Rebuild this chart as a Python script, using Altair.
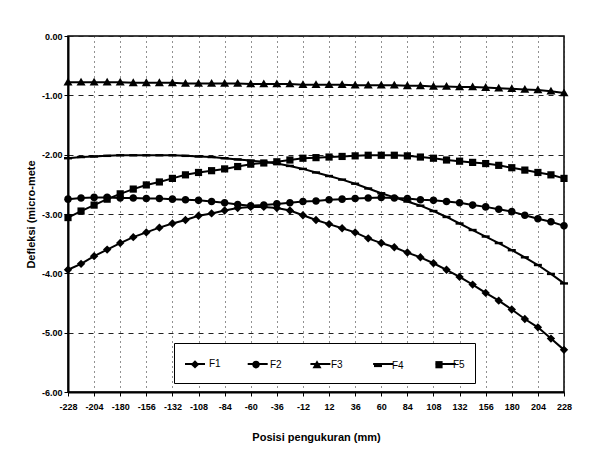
import altair as alt
import pandas as pd

# ---------------- data ----------------
positions = [-228, -216, -204, -192, -180, -168, -156, -144, -132, -120,
             -108, -96, -84, -72, -60, -48, -36, -24, -12, 0,
             12, 24, 36, 48, 60, 72, 84, 96, 108, 120,
             132, 144, 156, 168, 180, 192, 204, 216, 228]

f1 = [-3.94, -3.84, -3.71, -3.60, -3.49, -3.39, -3.31, -3.23, -3.16, -3.10,
      -3.03, -2.99, -2.94, -2.90, -2.88, -2.88, -2.90, -2.94, -3.02, -3.10,
      -3.17, -3.24, -3.31, -3.41, -3.49, -3.56, -3.65, -3.73, -3.83, -3.94,
      -4.06, -4.19, -4.33, -4.46, -4.61, -4.77, -4.91, -5.10, -5.29]

f2 = [-2.75, -2.73, -2.72, -2.72, -2.73, -2.73, -2.74, -2.74, -2.75, -2.76,
      -2.77, -2.79, -2.81, -2.84, -2.86, -2.85, -2.83, -2.81, -2.79, -2.78,
      -2.76, -2.75, -2.74, -2.73, -2.72, -2.73, -2.74, -2.76, -2.77, -2.79,
      -2.81, -2.85, -2.88, -2.92, -2.96, -3.02, -3.08, -3.13, -3.20]

f3 = [-0.78, -0.78, -0.78, -0.78, -0.78, -0.79, -0.79, -0.79, -0.79, -0.80,
      -0.80, -0.80, -0.80, -0.80, -0.81, -0.81, -0.81, -0.81, -0.82, -0.82,
      -0.82, -0.82, -0.83, -0.83, -0.83, -0.83, -0.84, -0.84, -0.85, -0.85,
      -0.86, -0.86, -0.87, -0.88, -0.89, -0.90, -0.91, -0.93, -0.96]

f4 = [-2.06, -2.04, -2.03, -2.02, -2.01, -2.01, -2.01, -2.01, -2.01, -2.02,
      -2.03, -2.04, -2.06, -2.08, -2.10, -2.12, -2.15, -2.19, -2.24, -2.30,
      -2.36, -2.42, -2.49, -2.57, -2.65, -2.72, -2.79, -2.86, -2.95, -3.05,
      -3.16, -3.27, -3.38, -3.49, -3.61, -3.73, -3.86, -4.01, -4.17]

f5 = [-3.06, -2.95, -2.85, -2.75, -2.66, -2.58, -2.51, -2.46, -2.40, -2.34,
      -2.30, -2.27, -2.24, -2.20, -2.16, -2.14, -2.12, -2.09, -2.06, -2.05,
      -2.04, -2.03, -2.02, -2.01, -2.01, -2.01, -2.02, -2.04, -2.06, -2.09,
      -2.11, -2.13, -2.15, -2.18, -2.22, -2.26, -2.30, -2.34, -2.40]

series_names = ["F1", "F2", "F3", "F4", "F5"]
x_ticks = [-228, -204, -180, -156, -132, -108, -84, -60, -36, -12,
           12, 36, 60, 84, 108, 132, 156, 180, 204, 228]
y_ticks = [0, -1, -2, -3, -4, -5, -6]

rows = []
for name, vals in zip(series_names, [f1, f2, f3, f4, f5]):
    for p, v in zip(positions, vals):
        rows.append({"pos": p, "val": v, "series": name, "lineSeries": name})
df = pd.DataFrame(rows)

FONT = "Liberation Sans"
# marker shapes drawn small inside the [-1, 1] symbol box
shapes = [
    "M0,-0.42L0.42,0L0,0.42L-0.42,0Z",                                   # diamond
    "M0.38,0A0.38,0.38,0,1,1,-0.38,0A0.38,0.38,0,1,1,0.38,0Z",           # circle
    "M0,-0.45L0.45,0.33L-0.45,0.33Z",                                     # triangle
    "M-0.4,-0.12L0.4,-0.12L0.4,0.12L-0.4,0.12Z",                          # dash
    "M-0.36,-0.36L0.36,-0.36L0.36,0.36L-0.36,0.36Z",                      # square
]

x_enc = alt.X(
    "pos:Q",
    scale=alt.Scale(domain=[-228, 228], nice=False, zero=False),
    axis=alt.Axis(
        values=x_ticks, labelExpr="toString(datum.value)",
        grid=True, gridDash=[1, 4], gridColor="#222222", gridWidth=1,
        domainColor="black", domainWidth=2, tickColor="black", tickSize=4,
        labelFont=FONT, labelFontSize=9, labelFontWeight="bold", labelColor="black",
        labelPadding=6, labelAngle=0, labelOverlap=False, labelFlush=False,
        title="Posisi pengukuran (mm)", titleFont=FONT, titleFontSize=11,
        titleFontWeight="bold", titleColor="black", titlePadding=20,
    ),
)
y_enc = alt.Y(
    "val:Q",
    scale=alt.Scale(domain=[-6, 0], nice=False, zero=False),
    axis=alt.Axis(
        values=y_ticks, labelExpr="replace(format(datum.value, '.2f'), '\u2212', '-')",
        grid=True, gridDash=[5, 5], gridColor="#222222", gridWidth=1,
        domainColor="black", domainWidth=2, tickColor="black", tickSize=4,
        labelFont=FONT, labelFontSize=9, labelFontWeight="bold", labelColor="black",
        labelPadding=2, labelOverlap=False, labelFlush=False,
        title="Defleksi (micro-mete", titleFont=FONT, titleFontSize=11,
        titleFontWeight="bold", titleColor="black", titlePadding=5,
    ),
)

LX, LY = 106, 307
SYM = 400

lines = alt.Chart(df).mark_line(strokeWidth=2).encode(
    x=x_enc,
    y=y_enc,
    color=alt.Color(
        "lineSeries:N",
        scale=alt.Scale(range=["black"] * 5),
        legend=alt.Legend(
            title=None, orient="none", legendX=LX, legendY=LY,
            direction="horizontal", symbolType="stroke", symbolSize=SYM,
            symbolStrokeWidth=2, symbolStrokeColor="black",
            symbolOffset=0, labelOffset=3, labelExpr="''",
            labelFont=FONT, labelFontSize=10, columnPadding=34.7, padding=10,
            zindex=2,
        ),
    ),
)

points = alt.Chart(df).mark_point(
    filled=True, size=SYM, color="black", opacity=1
).encode(
    x=x_enc,
    y=y_enc,
    shape=alt.Shape(
        "series:N",
        scale=alt.Scale(domain=series_names, range=shapes),
        legend=alt.Legend(
            title=None, orient="none", legendX=LX, legendY=LY,
            direction="horizontal", symbolSize=SYM, symbolStrokeWidth=2,
            symbolFillColor="black", symbolStrokeColor="black", symbolOpacity=1,
            symbolOffset=0, labelOffset=3,
            labelFont=FONT, labelFontSize=10, labelColor="black",
            columnPadding=24, padding=10,
            fillColor="white", strokeColor="black", zindex=1,
        ),
    ),
)

chart = alt.layer(lines, points).properties(
    width=496,
    height=356,
    autosize=alt.AutoSizeParams(type="none"),
    padding={"left": 68, "top": 36, "right": 29, "bottom": 66},
    background="white",
).configure_view(stroke="black", strokeWidth=1.5)

chart.save("out.html", embed_options={"renderer": "svg", "actions": False})
